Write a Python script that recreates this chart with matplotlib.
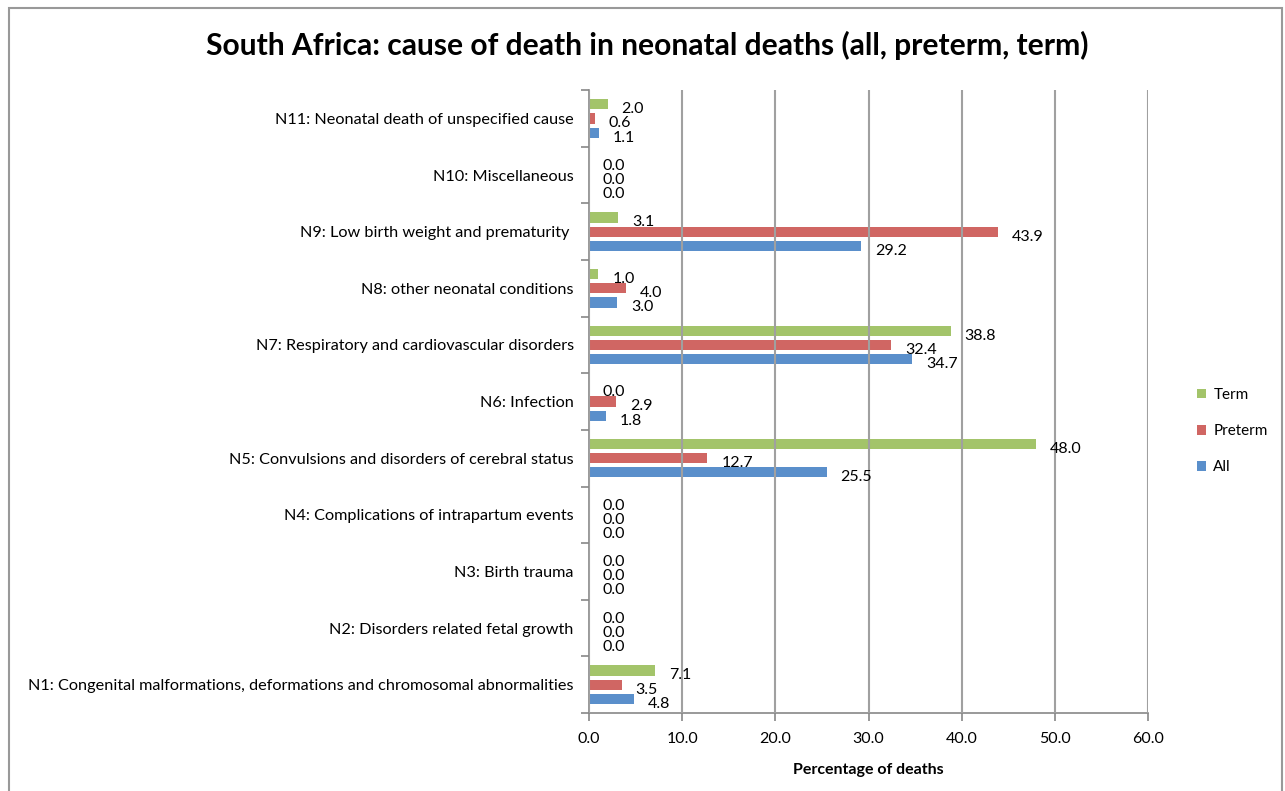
import numpy as np
import matplotlib
matplotlib.use('Agg')
import matplotlib.pyplot as plt
from matplotlib.patches import Rectangle

plt.rcParams['font.family'] = ['Lato', 'DejaVu Sans']

causes = ['N1: Congenital malformations, deformations and chromosomal abnormalities',
          'N2: Disorders related fetal growth',
          'N3: Birth trauma',
          'N4: Complications of intrapartum events',
          'N5: Convulsions and disorders of cerebral status',
          'N6: Infection',
          'N7: Respiratory and cardiovascular disorders',
          'N8: other neonatal conditions',
          'N9: Low birth weight and prematurity ',
          'N10: Miscellaneous',
          'N11: Neonatal death of unspecified cause']
all_vals = [4.8, 0.0, 0.0, 0.0, 25.5, 1.8, 34.7, 3.0, 29.2, 0.0, 1.1]
preterm_vals = [3.5, 0.0, 0.0, 0.0, 12.7, 2.9, 32.4, 4.0, 43.9, 0.0, 0.6]
term_vals = [7.1, 0.0, 0.0, 0.0, 48.0, 0.0, 38.8, 1.0, 3.1, 0.0, 2.0]
xticks = [0, 10, 20, 30, 40, 50, 60]

fig = plt.figure(figsize=(12.85, 7.91), dpi=100)
ax = fig.add_axes([0.4584, 0.0986, 0.435, 0.7874])

y = np.arange(len(causes))
h = 0.18
off = 0.25
series = [('All', all_vals, '#5A8FCB', -off),
          ('Preterm', preterm_vals, '#D06663', 0.0),
          ('Term', term_vals, '#A3C46A', off)]
handles = {}
for name, vals, col, o in series:
    b = ax.barh(y + o, vals, height=h, color=col, zorder=2, label=name)
    handles[name] = b
    for yi, v in zip(y + o, vals):
        ax.annotate('%.1f' % v, (v, yi), xytext=(10, -3.5), textcoords='offset points',
                    ha='left', va='center', fontsize=11.5, zorder=4)

ax.set_xlim(0, 60)
ax.set_ylim(-0.5, len(causes) - 0.5)
ax.set_xticks(xticks)
ax.set_xticklabels(['%.1f' % t for t in xticks], fontsize=11.5)
ax.set_yticks(y)
ax.set_yticklabels(causes, fontsize=11.7)
ax.set_yticks(np.arange(-0.5, len(causes), 1.0), minor=True)
ax.tick_params(axis='y', which='major', length=0, pad=11)
ax.tick_params(axis='y', which='minor', length=6, color='#888888', width=1.2, direction='out')
ax.tick_params(axis='x', length=6, color='#888888', width=1.2, direction='out', pad=8)
ax.set_axisbelow(False)
ax.grid(axis='x', color='#A0A0A0', linewidth=1.5, zorder=3)
for s in ['top', 'right']:
    ax.spines[s].set_visible(False)
for s in ['left', 'bottom']:
    ax.spines[s].set_color('#888888')
    ax.spines[s].set_linewidth(1.2)

ax.set_xlabel('Percentage of deaths', fontsize=11.5, fontweight='bold', labelpad=12)

fig.text(0.504, 0.943, 'South Africa: cause of death in neonatal deaths (all, preterm, term)',
         ha='center', va='center', fontsize=21.6, fontweight='bold')

leg = fig.legend([handles['Term'], handles['Preterm'], handles['All']],
                 ['Term', 'Preterm', 'All'], loc='center left',
                 bbox_to_anchor=(0.921, 0.455), frameon=False, fontsize=11,
                 handlelength=0.6, handleheight=0.6, handletextpad=0.45, labelspacing=1.45)

fig.patches.append(Rectangle((9 / 1285, -0.01), 1273 / 1285, 1 - 8 / 791 + 0.01,
                             transform=fig.transFigure, fill=False,
                             edgecolor='#999999', linewidth=1.5))

fig.savefig('out.png', dpi=100)
